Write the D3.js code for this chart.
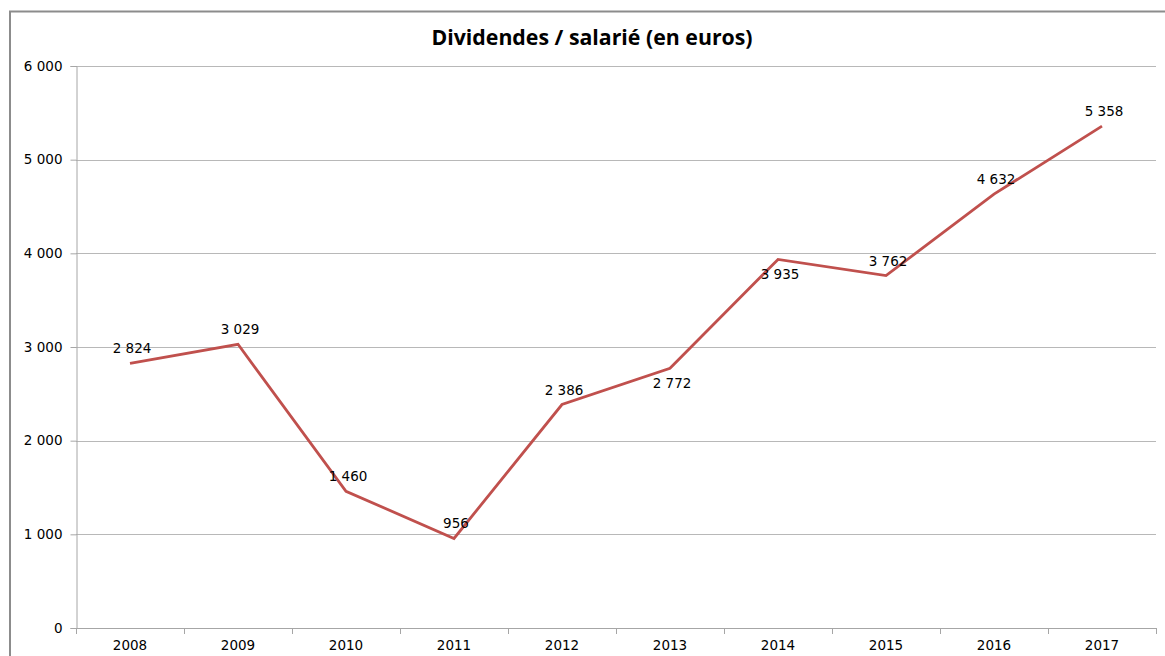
<!DOCTYPE html>
<html>
<head>
<meta charset="utf-8">
<script src="https://cdn.jsdelivr.net/npm/d3@7"></script>
<style>
  html, body { margin: 0; padding: 0; background: #fff; }
  svg { display: block; }
</style>
</head>
<body>
<script>
const years = ["2008","2009","2010","2011","2012","2013","2014","2015","2016","2017"];
const values = [2824, 3029, 1460, 956, 2386, 2772, 3935, 3762, 4632, 5358];
const valueLabels = ["2 824","3 029","1 460","956","2 386","2 772","3 935","3 762","4 632","5 358"];
const labelSide = ["above","above","above","above","above","below","below","above","above","above"];
const yTicks = [0, 1000, 2000, 3000, 4000, 5000, 6000];
const title = "Dividendes / salarié (en euros)";

(function () {
const W = 1165, H = 656;
const pLeft = 76, pRight = 1156, pTop = 66, pBottom = 628;
const fs = 13.5;

const svg = d3.select("body").append("svg").attr("width", W).attr("height", H);

// frame
svg.append("path")
  .attr("d", `M10,${H} L10,11.5 L${W},11.5`)
  .attr("fill", "none").attr("stroke", "#8c8c8c").attr("stroke-width", 2);

const x = d3.scaleBand().domain(years).range([pLeft, pRight]).padding(0);
const y = d3.scaleLinear().domain([0, 6000]).range([pBottom, pTop]);

const fmt = d => d3.format(",")(d).replace(/,/g, " ");

// gridlines
svg.append("g").selectAll("line").data(yTicks.filter(d => d > 0)).join("line")
  .attr("x1", pLeft).attr("x2", pRight)
  .attr("y1", d => Math.round(y(d)) + 0.5).attr("y2", d => Math.round(y(d)) + 0.5)
  .attr("stroke", "#b8b8b8").attr("stroke-width", 1);

// y axis
const yAxis = svg.append("g").attr("transform", `translate(${pLeft + 0.5},0)`)
  .call(d3.axisLeft(y).tickValues(yTicks).tickFormat(fmt).tickSize(6).tickPadding(8));
yAxis.select(".domain").attr("stroke", "#a6a6a6");
yAxis.selectAll(".tick line").attr("stroke", "#a6a6a6");
yAxis.selectAll("text").attr("font-family", "DejaVu Sans").attr("font-size", fs).attr("fill", "#000");

// x axis
const xAxis = svg.append("g").attr("transform", `translate(0,${pBottom + 0.5})`)
  .call(d3.axisBottom(x).tickSize(0).tickPadding(12));
xAxis.select(".domain").attr("stroke", "#a6a6a6").attr("d", `M${pLeft},0H${pRight}`);
xAxis.selectAll("text").attr("font-family", "DejaVu Sans").attr("font-size", fs).attr("fill", "#000");
// category boundary ticks
svg.append("g").selectAll("line").data(years.concat(["end"])).join("line")
  .attr("x1", (d, i) => Math.round(pLeft + i * x.bandwidth()) + 0.5)
  .attr("x2", (d, i) => Math.round(pLeft + i * x.bandwidth()) + 0.5)
  .attr("y1", pBottom).attr("y2", pBottom + 6)
  .attr("stroke", "#a6a6a6");

// line
const line = d3.line().x((d, i) => x(years[i]) + x.bandwidth() / 2).y(d => y(d));
svg.append("path").datum(values)
  .attr("d", line)
  .attr("fill", "none").attr("stroke", "#c0504d").attr("stroke-width", 2.8)
  .attr("stroke-linejoin", "miter");

// data labels
svg.append("g").selectAll("text").data(values).join("text")
  .attr("x", (d, i) => x(years[i]) + x.bandwidth() / 2 + 2)
  .attr("y", (d, i) => y(d) + (labelSide[i] === "above" ? -10 : 20))
  .attr("text-anchor", "middle")
  .attr("font-family", "DejaVu Sans").attr("font-size", fs).attr("fill", "#000")
  .text((d, i) => valueLabels[i]);

// title
svg.append("text")
  .attr("x", 592).attr("y", 45)
  .attr("text-anchor", "middle")
  .attr("font-family", "Open Sans").attr("font-weight", "bold").attr("font-size", 21.3)
  .attr("fill", "#000")
  .text(title);
})();
</script>
</body>
</html>
